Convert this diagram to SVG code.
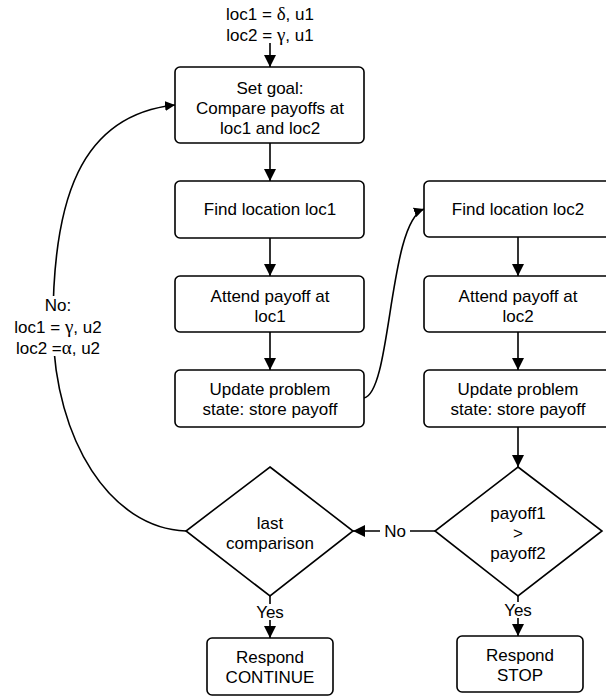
<svg xmlns="http://www.w3.org/2000/svg" width="606" height="697" viewBox="0 0 606 697">
<defs>
<marker id="ah" viewBox="0 0 10 10" refX="10" refY="5" markerWidth="10" markerHeight="10" markerUnits="userSpaceOnUse" orient="auto">
<path d="M0,0 L10,5 L0,10 z" fill="#000"/>
</marker>
<marker id="ahb" viewBox="0 0 12 12" refX="12" refY="6" markerWidth="12" markerHeight="12" markerUnits="userSpaceOnUse" orient="auto">
<path d="M0,0 L12,6 L0,12 z" fill="#000"/>
</marker>
</defs>
<style>
.box{fill:#fff;stroke:#000;stroke-width:1.6}
.t{font-family:"Liberation Sans",Arial,sans-serif;font-size:17px;fill:#000;text-anchor:middle}
.g{font-family:"Liberation Serif","Times New Roman",serif;font-size:19px}
.c{fill:none;stroke:#000;stroke-width:1.6}
</style>
<rect width="606" height="697" fill="#fff"/>
<g id="connectors">
<path class="c" d="M270,43 L270,67" marker-end="url(#ahb)"/>
<path class="c" d="M270,143 L270,181" marker-end="url(#ahb)"/>
<path class="c" d="M270,238 L270,276" marker-end="url(#ahb)"/>
<path class="c" d="M270,332 L270,370" marker-end="url(#ahb)"/>
<path class="c" d="M364,398 C392,392 388,222 424,209" marker-end="url(#ah)"/>
<path class="c" d="M518,237 L518,276" marker-end="url(#ahb)"/>
<path class="c" d="M518,332 L518,370" marker-end="url(#ahb)"/>
<path class="c" d="M518,427 L518,467" marker-end="url(#ahb)"/>
<path class="c" d="M435,531 L410,531 M380,531 L353,531" marker-end="url(#ahb)"/>
<path class="c" d="M186,531 C110,528 55,440 53,330 C52,200 80,115 175,105" marker-end="url(#ah)"/>
<path class="c" d="M270,596 L270,604 M270,620 L270,638" marker-end="url(#ahb)"/>
<path class="c" d="M518,596 L518,602 M518,618 L518,636" marker-end="url(#ahb)"/>
<g fill="#fff"><rect x="381" y="522" width="28" height="18"/><rect x="255" y="604" width="30" height="16"/><rect x="503" y="602" width="30" height="16"/><rect x="16" y="296" width="90" height="60"/></g>
<text class="t" x="395" y="537">No</text>
<text class="t" x="270" y="618">Yes</text>
<text class="t" x="518" y="616">Yes</text>
<text class="t" x="58" y="311">No:</text>
<text class="t" x="58" y="333">loc1 = <tspan class="g">γ</tspan>, u2</text>
<text class="t" x="58" y="354">loc2 =<tspan class="g">α</tspan>, u2</text>
<text class="t" x="270" y="20">loc1 = <tspan class="g">δ</tspan>, u1</text>
<text class="t" x="270" y="41">loc2 = <tspan class="g">γ</tspan>, u1</text>
</g>
<g id="setgoal"><rect class="box" x="175" y="67" width="189" height="76" rx="5"/>
<text class="t" x="270" y="94">Set goal:</text><text class="t" x="270" y="114">Compare payoffs at</text><text class="t" x="270" y="134">loc1 and loc2</text></g>
<g id="find1"><rect class="box" x="175" y="181" width="189" height="57" rx="5"/>
<text class="t" x="270" y="215">Find location loc1</text></g>
<g id="attend1"><rect class="box" x="175" y="276" width="189" height="56" rx="5"/>
<text class="t" x="270" y="302">Attend payoff at</text><text class="t" x="270" y="322">loc1</text></g>
<g id="update1"><rect class="box" x="175" y="370" width="189" height="57" rx="5"/>
<text class="t" x="270" y="395">Update problem</text><text class="t" x="270" y="415">state: store payoff</text></g>
<g id="find2"><rect class="box" x="424" y="181" width="188" height="56" rx="5"/>
<text class="t" x="518" y="215">Find location loc2</text></g>
<g id="attend2"><rect class="box" x="424" y="276" width="188" height="56" rx="5"/>
<text class="t" x="518" y="302">Attend payoff at</text><text class="t" x="518" y="322">loc2</text></g>
<g id="update2"><rect class="box" x="424" y="370" width="188" height="57" rx="5"/>
<text class="t" x="518" y="395">Update problem</text><text class="t" x="518" y="415">state: store payoff</text></g>
<g id="last"><path class="box" d="M270,467 L353,531 L270,596 L186,531 z"/>
<text class="t" x="270" y="529">last</text><text class="t" x="270" y="549">comparison</text></g>
<g id="compare"><path class="box" d="M518,467 L602,531 L518,596 L435,531 z"/>
<text class="t" x="518" y="519">payoff1</text><text class="t" x="518" y="539">&gt;</text><text class="t" x="518" y="559">payoff2</text></g>
<g id="continue"><rect class="box" x="207" y="638" width="126" height="57" rx="5"/>
<text class="t" x="270" y="663">Respond</text><text class="t" x="270" y="683">CONTINUE</text></g>
<g id="stop"><rect class="box" x="457" y="636" width="126" height="56" rx="5"/>
<text class="t" x="520" y="661">Respond</text><text class="t" x="520" y="681">STOP</text></g>
</svg>
